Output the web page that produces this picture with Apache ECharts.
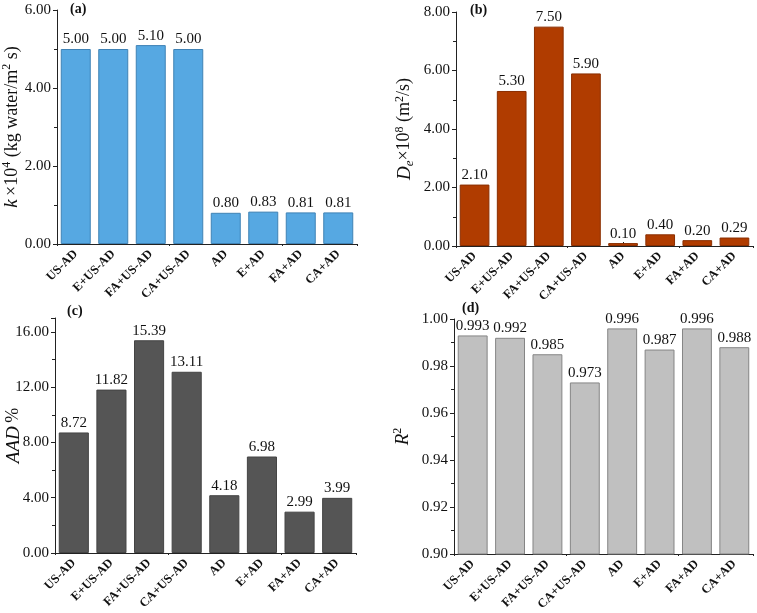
<!DOCTYPE html>
<html><head><meta charset="utf-8">
<script src="https://cdn.jsdelivr.net/npm/echarts@6/dist/echarts.min.js"></script>
<style>html,body{margin:0;padding:0;background:#fff}#c{width:757px;height:613px}</style>
</head><body><div id="c"></div>
<script>
const categories = ['US-AD','E+US-AD','FA+US-AD','CA+US-AD','AD','E+AD','FA+AD','CA+AD'];
const kValues = [5.00, 5.00, 5.10, 5.00, 0.80, 0.83, 0.81, 0.81];
const deValues = [2.10, 5.30, 7.50, 5.90, 0.10, 0.40, 0.20, 0.29];
const aadValues = [8.72, 11.82, 15.39, 13.11, 4.18, 6.98, 2.99, 3.99];
const r2Values = [0.993, 0.992, 0.985, 0.973, 0.996, 0.987, 0.996, 0.988];
const panelLabels = ['(a)', '(b)', '(c)', '(d)'];

const FONT = '"Liberation Serif", "Times New Roman", serif';
const chart = echarts.init(document.getElementById('c'));

const grids = [
  {left: 57, top: 10, width: 300, height: 234},
  {left: 456, top: 12, width: 297, height: 234},
  {left: 55, top: 318, width: 301, height: 235},
  {left: 454, top: 319, width: 299, height: 235}
].map(g => Object.assign(g, {containLabel: false, outerBoundsMode: 'none'}));
const yCfg = [
  {min: 0, max: 6, interval: 2, dec: 2},
  {min: 0, max: 8, interval: 2, dec: 2},
  {min: 0, max: 17, interval: 4, dec: 2},
  {min: 0.9, max: 1.0, interval: 0.02, dec: 2}
];
const names = [
  '{i|k} {n|×10}{sup|4}{n| (kg water/m}{sup|2}{n| s)}',
  '{i|D}{sub|e}{n|×10}{sup|8}{n| (m}{sup|2}{n|/s)}',
  '{i|AAD} {n|%}',
  '{i|R}{sup|2}'
];
const nameGap = [34, 40, 32, 40];
const colors = ['#56A8E2', '#B03C00', '#555555', '#C0C0C0'];
const borders = ['#3F82B5', '#8A2E00', '#444444', '#858585'];
const dataSets = [kValues, deValues, aadValues, r2Values];
const labelDec = [2, 2, 2, 3];

const rich = {
  i: {fontFamily: FONT, fontStyle: 'italic', fontSize: 19, color: '#111'},
  n: {fontFamily: FONT, fontSize: 18, color: '#111'},
  sup: {fontFamily: FONT, fontSize: 12, color: '#111', verticalAlign: 'bottom', padding: [0,0,10,0]},
  sub: {fontFamily: FONT, fontStyle: 'italic', fontSize: 13, color: '#111', verticalAlign: 'top', padding: [10,0,0,0]}
};

const mainX = grids.map((g, i) => ({
  type: 'category', gridIndex: i, data: categories,
  axisLine: {lineStyle: {color: '#222', width: 1}},
  axisTick: {show: true, inside: true, alignWithLabel: true, length: 4, lineStyle: {color: '#222'}},
  axisLabel: {rotate: 45, interval: 0, fontFamily: FONT, fontWeight: 'bold', fontSize: 12.5, color: '#111', margin: 8}
}));
const boundaryX = grids.map((g, i) => ({
  type: 'category', gridIndex: i, data: categories, position: 'bottom',
  axisLine: {show: false},
  axisTick: {show: true, inside: false, length: 2, lineStyle: {color: '#222'}},
  axisLabel: {show: false}
}));

const option = {
  backgroundColor: '#fff',
  animation: false,
  grid: grids,
  xAxis: mainX.concat(boundaryX),
  yAxis: grids.map((g, i) => ({
    type: 'value', gridIndex: i, min: yCfg[i].min, max: yCfg[i].max, interval: yCfg[i].interval,
    name: names[i], nameLocation: 'middle', nameGap: nameGap[i], nameRotate: 90,
    nameMoveOverlap: false,
    nameTextStyle: {rich: rich},
    axisLine: {show: true, lineStyle: {color: '#222', width: 1}},
    axisTick: {show: true, inside: false, length: 4, lineStyle: {color: '#222'}},
    minorTick: {show: true, splitNumber: 2, length: 3, lineStyle: {color: '#222'}},
    splitLine: {show: false},
    axisLabel: {fontFamily: FONT, fontSize: 15, color: '#111', margin: 6, showMaxLabel: i !== 2,
      formatter: v => Number(v).toFixed(yCfg[i].dec)}
  })),
  series: dataSets.map((d, i) => ({
    type: 'bar', xAxisIndex: i, yAxisIndex: i, data: d, barCategoryGap: '20%',
    itemStyle: {color: colors[i], borderColor: borders[i], borderWidth: 1},
    label: {show: true, position: 'top', distance: 2, fontFamily: FONT, fontSize: 15, color: '#111',
      formatter: p => Number(p.value).toFixed(labelDec[i])}
  })),
  graphic: [
    {type: 'text', left: 70, top: 2, style: {text: panelLabels[0], fontFamily: FONT, fontWeight: 'bold', fontSize: 14, fill: '#111'}},
    {type: 'text', left: 470, top: 3, style: {text: panelLabels[1], fontFamily: FONT, fontWeight: 'bold', fontSize: 14, fill: '#111'}},
    {type: 'text', left: 67, top: 304, style: {text: panelLabels[2], fontFamily: FONT, fontWeight: 'bold', fontSize: 14, fill: '#111'}},
    {type: 'text', left: 462, top: 301, style: {text: panelLabels[3], fontFamily: FONT, fontWeight: 'bold', fontSize: 14, fill: '#111'}}
  ]
};
chart.setOption(option);
</script></body></html>
